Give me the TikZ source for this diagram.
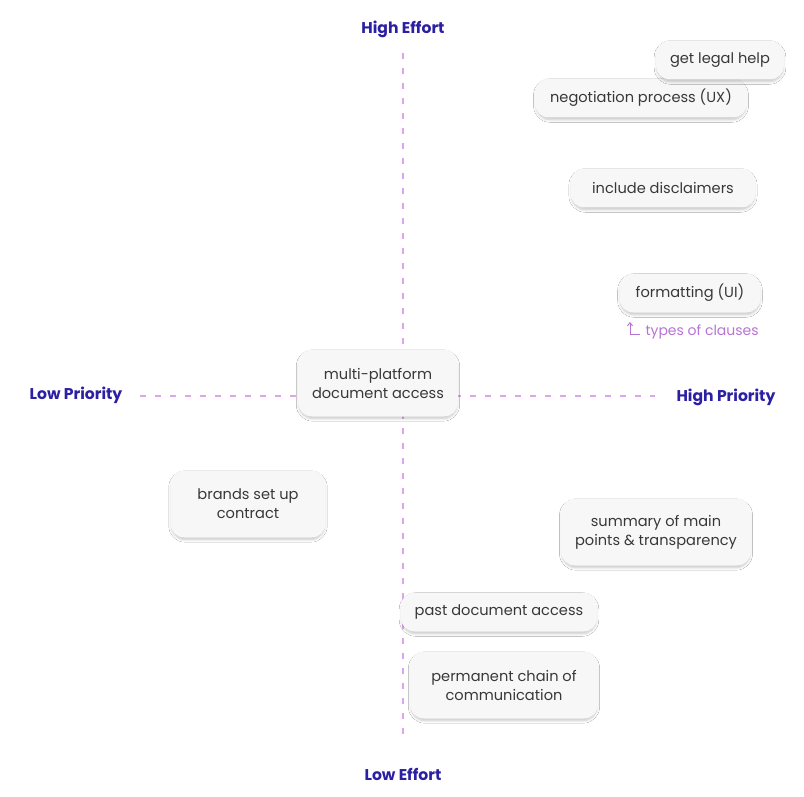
\documentclass[tikz,border=0pt]{standalone}
\usepackage{fontspec}
\setmainfont{Poppins}
\usetikzlibrary{positioning,arrows.meta,shadows.blur}
\definecolor{axisblue}{HTML}{2B1FA3}
\definecolor{lilac}{HTML}{DDA6EC}
\definecolor{cardgray}{HTML}{F7F7F7}
\definecolor{inkgray}{HTML}{383838}
\definecolor{notepink}{HTML}{B874D4}
\tikzset{
  card/.style={rounded corners=14pt, fill=cardgray, inner xsep=14pt, minimum height=39pt,
    align=center, text=inkgray, font=\fontsize{14.6}{19}\selectfont,
    blur shadow={shadow xshift=0pt, shadow yshift=-2.5pt, shadow blur steps=6,
      shadow blur radius=2.5pt, shadow scale=0.99, shadow opacity=22}},
  axislabel/.style={text=axisblue, font=\fontsize{15.6}{18}\selectfont\bfseries},
  axisline/.style={lilac, line width=1.2pt, dash pattern=on 6pt off 9pt}
}
\begin{document}
\begin{tikzpicture}[x=1pt,y=-1pt]
    \fill[white] (0,0) rectangle (804,797);
    \useasboundingbox (0,0) rectangle (804,797);
    % axes
    \coordinate (top) at (403,53);
    \coordinate (bottom) at (403,740);
    \coordinate (left) at (140,396);
    \coordinate (right) at (655,396);
    \draw[axisline] (top) -- (bottom);
    \draw[axisline] (left) -- (right);
    \node[axislabel] (higheffort) at (403,29) {High Effort};
    \node[axislabel] (loweffort) at (403,774) {Low Effort};
    \node[axislabel] (lowprio) at (76,395) {Low Priority};
    \node[axislabel] (highprio) at (726,397) {High Priority};
    % cards
    \node[card, minimum width=212] (negotiation) at (641,98) {negotiation process (UX)};
    \node[card, minimum width=123] (legal) at (720,60) {get legal help};
    \node[card, minimum width=185] (disclaimers) at (663,188) {include disclaimers};
    \node[card, minimum width=141] (formatting) at (690,293) {formatting (UI)};
    \node[card, minimum width=155, minimum height=67] (multi) at (378,383) {multi-platform\\document access};
    \node[card, minimum width=155, minimum height=67] (brands) at (248,504) {brands set up\\contract};
    \node[card, minimum width=187, minimum height=67] (summary) at (656,532) {summary of main\\points \& transparency};
    \node[card, minimum width=195] (past) at (499,612) {past document access};
    \node[card, minimum width=188, minimum height=67] (chain) at (504,685) {permanent chain of\\communication};
    % note under formatting
    \node[text=notepink, font=\fontsize{14}{16}\selectfont, anchor=west] (clauses) at (642,332) {types of clauses};
    \coordinate (hook) at ([xshift=-2pt,yshift=-2pt]clauses.west);
    \draw[notepink, line width=1pt, -{Straight Barb[length=3pt,width=5pt]}] (hook) -- ++(-10,0) -- ++(0,-12);
\end{tikzpicture}
\end{document}
